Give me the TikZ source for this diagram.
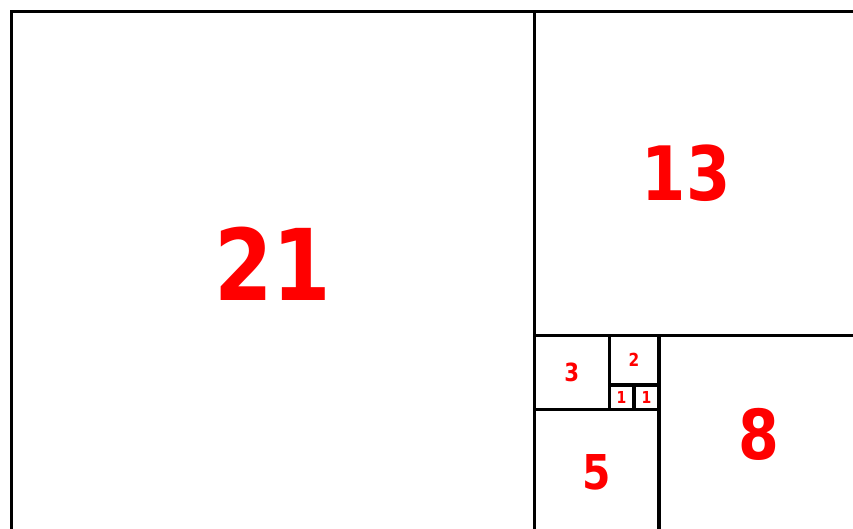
\documentclass[tikz,border=0pt]{standalone}
\usepackage{graphicx}
\usepackage{fontspec}
\setmainfont{DejaVu Sans}
\usetikzlibrary{positioning}
\newcommand{\narrownum}[1]{\scalebox{0.85}[1]{#1}}
\tikzset{
  sq/.style={draw, line width=3.2pt, inner sep=0pt, outer sep=0pt,
    minimum size=#1*24.9pt, anchor=north west},
  num/.style={text=red, inner sep=0pt, font=\bfseries\fontsize{#1}{#1}\selectfont}
}

\begin{document}
\begin{tikzpicture}
  \path[use as bounding box, clip] (0,0) rectangle (853pt,529pt);
  % the squares, each one glued to the last
  \node[sq=21] (s21) at (11.5pt,517.5pt) {};
  \node[sq=13] (s13) at (s21.north east) {};
  \node[sq=3] (s3) at (s13.south west) {};
  \node[sq=2] (s2) at (s3.north east) {};
  \node[sq=1] (s1a) at (s2.south west) {};
  \node[sq=1] (s1b) at (s1a.north east) {};
  \node[sq=5] (s5) at (s3.south west) {};
  \node[sq=8] (s8) at (s2.north east) {};
  % numbers
  \node[num=99] (n21) at ([yshift=9pt]s21.center) {\narrownum{21}};
  \node[num=75] (n13) at ([xshift=-10pt]s13.center) {\narrownum{13}};
  \node[num=69] (n8) at (s8.center) {\narrownum{8}};
  \node[num=48] (n5) at (s5.center) {\narrownum{5}};
  \node[num=25] (n3) at (s3.center) {\narrownum{3}};
  \node[num=18] (n2) at (s2.center) {\narrownum{2}};
  \node[num=16.5] (n1a) at (s1a.center) {\narrownum{1}};
  \node[num=16.5] (n1b) at (s1b.center) {\narrownum{1}};
\end{tikzpicture}
\end{document}
